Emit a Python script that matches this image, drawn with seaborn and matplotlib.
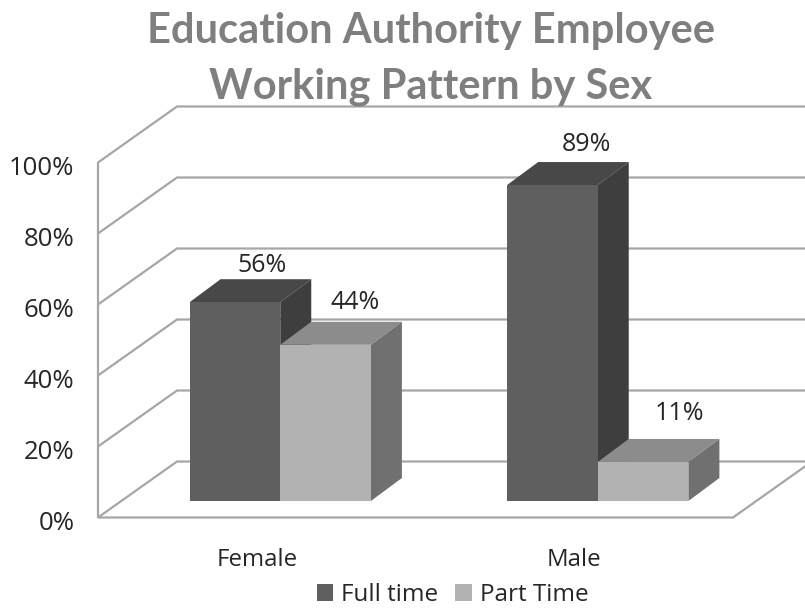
import matplotlib
matplotlib.use("Agg")
import matplotlib.pyplot as plt
from matplotlib.patches import Polygon, Patch
from matplotlib.transforms import Affine2D, IdentityTransform
import pandas as pd
import seaborn as sns

categories = ["Female", "Male"]
full_time = [56, 89]
part_time = [44, 11]
series_names = ["Full time", "Part Time"]
y_ticks = [0, 20, 40, 60, 80, 100]
title_lines = "Education Authority Employee\nWorking Pattern by Sex"

W, H = 805, 608
LEFT, RIGHT, BOTTOM, TOP = 98, 733, 517.5, 162.5
WALL_DX, WALL_DY = 79, 56      # depth of the floor, px
BAR_DX, BAR_DY = 23.5, 16.5    # bar plane relative to the front of the floor
DEPTH_DX, DEPTH_DY = 31, 23    # bar depth
GRID = "#a6a6a6"
FRONT = {"Full time": "#5f5f5f", "Part Time": "#b2b2b2"}
TOPC = {"Full time": "#484848", "Part Time": "#8c8c8c"}
SIDE = {"Full time": "#3e3e3e", "Part Time": "#707070"}
TEXT = "#262626"
PX = IdentityTransform()
# pixel nudges of the value labels from the centre of each bar's top face
LABEL_NUDGE = [(12, 14), (19, 18), (14, 19), (21, 25)]

sns.set_theme(style="white")
plt.rcParams["font.family"] = ["Open Sans", "DejaVu Sans"]

df = pd.DataFrame({
    "sex": categories * 2,
    "pct": full_time + part_time,
    "pattern": [series_names[0]] * 2 + [series_names[1]] * 2,
})

fig = plt.figure(figsize=(W / 100, H / 100), dpi=100, facecolor="white")
ax = fig.add_axes([LEFT / W, 1 - BOTTOM / H, (RIGHT - LEFT) / W, (BOTTOM - TOP) / H])
sns.barplot(data=df, x="sex", y="pct", hue="pattern", palette=FRONT, width=0.571,
            gap=0, dodge=True, saturation=1, legend=False, ax=ax, errorbar=None)
ax.set_zorder(2)
ax.set_xlim(-0.5, 1.5)
ax.set_ylim(0, 100)
ax.patch.set_alpha(0)
ax.set_xlabel("")
ax.set_ylabel("")
sns.despine(ax=ax, top=True, right=True, left=True, bottom=True)
ax.set_yticks(y_ticks, [f"{v}%" for v in y_ticks])
ax.tick_params(axis="y", length=0, pad=17, labelsize=18.5, labelcolor=TEXT)
ax.tick_params(axis="x", length=0, pad=22, labelsize=17.3, labelcolor=TEXT)
for lab in ax.get_yticklabels():
    lab.set_transform(lab.get_transform() + Affine2D().translate(0, -3))


def to_px(x, y):
    return ax.transData.transform((x, y))


def path(points, lw):
    fig.add_artist(Polygon(points, closed=False, fill=False, transform=PX,
                           edgecolor=GRID, linewidth=lw, zorder=1, joinstyle="miter"))


# wall and floor lines derived from the value ticks
x0, x1 = to_px(-0.5, 0)[0], to_px(1.5, 0)[0]
for v in y_ticks:
    yp = to_px(-0.5, v)[1]
    path([(x0, yp), (x0 + WALL_DX, yp + WALL_DY), (W + 10, yp + WALL_DY)], 1.6)
y_zero = to_px(-0.5, 0)[1]
y_top = to_px(-0.5, 100)[1]
path([(x0, y_zero), (x0, y_top)], 1.6)
path([(x0, y_zero), (x1, y_zero), (x1 + WALL_DX, y_zero + WALL_DY)], 1.6)

# shift each bar onto its plane and extrude it; right-hand bars of a group last
offset = Affine2D().translate(BAR_DX, BAR_DY)
names = [series_names[0]] * 2 + [series_names[1]] * 2
for bar, name, nudge in zip(list(ax.patches), names, LABEL_NUDGE):
    xa, ya = to_px(bar.get_x(), 0)
    xb, yb = to_px(bar.get_x() + bar.get_width(), bar.get_height())
    xa += BAR_DX
    xb += BAR_DX
    ya += BAR_DY
    yb += BAR_DY
    z = 3 if name == series_names[0] else 4
    faces = [
        ([(xa, yb), (xb, yb), (xb + DEPTH_DX, yb + DEPTH_DY), (xa + DEPTH_DX, yb + DEPTH_DY)], TOPC[name]),
        ([(xb, ya), (xb + DEPTH_DX, ya + DEPTH_DY), (xb + DEPTH_DX, yb + DEPTH_DY), (xb, yb)], SIDE[name]),
    ]
    for pts, c in faces:
        ax.add_patch(Polygon(pts, closed=True, facecolor=c, edgecolor="none",
                             transform=PX, zorder=z, clip_on=False))
    bar.set_transform(ax.transData + offset)
    bar.set_edgecolor("none")
    bar.set_zorder(z + 0.5)
    bar.set_clip_on(False)
    ax.text((xa + xb + DEPTH_DX) / 2 + nudge[0], yb + DEPTH_DY + nudge[1], f"{bar.get_height():.0f}%",
            transform=PX, ha="center", va="center", fontsize=18, color=TEXT, zorder=10)

fig.text(431 / W, 1 - 59 / H, title_lines, ha="center", va="center", fontsize=30,
         fontweight="bold", color="#7f7f7f", family=["Lato", "DejaVu Sans"], linespacing=1.55)

handles = [Patch(facecolor=FRONT[n], edgecolor="none") for n in series_names]
fig.legend(handles, series_names, loc="center", bbox_to_anchor=(452.5 / W, 1 - 595 / H),
           ncol=2, frameon=False, fontsize=17.5, labelcolor=TEXT, handlelength=0.68, handleheight=0.68,
           handletextpad=0.33, columnspacing=0.7, borderpad=0)

fig.savefig("out.png", dpi=100, facecolor="white")
